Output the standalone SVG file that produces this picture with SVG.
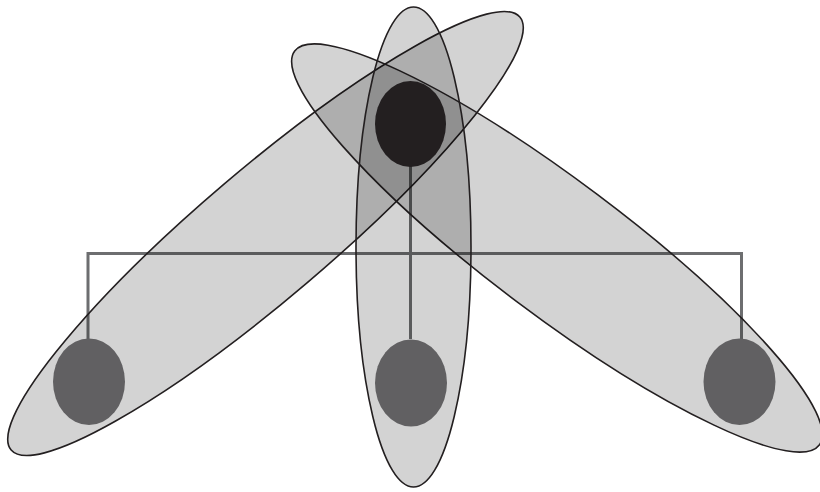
<svg xmlns="http://www.w3.org/2000/svg" width="820" height="492" viewBox="0 0 820 492">
  <style>
    .orbit { fill: #000; fill-opacity: 0.173; stroke: #231f20; stroke-width: 1.6; }
    .conn { fill: none; stroke: #6d6e70; stroke-width: 3; }
    .leaf { fill: #616062; }
    .root { fill: #231f20; }
  </style>
  <rect width="820" height="492" fill="#fff"/>
  <g id="connectors">
    <path class="conn" d="M410.5 160 V339"/>
    <path class="conn" d="M88 339 V253.5 H741.5 V339"/>
  </g>
  <g id="orbits">
    <ellipse id="orbit-left" class="orbit" cx="265.5" cy="233.5" rx="334" ry="64.5" transform="rotate(-40.4 265.5 233.5)"/>
    <ellipse id="orbit-right" class="orbit" cx="557" cy="248" rx="328" ry="67" transform="rotate(36.9 557 248)"/>
    <ellipse id="orbit-center" class="orbit" cx="413.5" cy="247" rx="57.5" ry="240"/>
  </g>
  <g id="root"><ellipse class="root" cx="410.5" cy="124" rx="35.5" ry="43"/></g>
  <g id="leaf-left"><ellipse class="leaf" cx="89" cy="381.7" rx="36" ry="43.3"/></g>
  <g id="leaf-middle"><ellipse class="leaf" cx="411" cy="383" rx="36" ry="43.5"/></g>
  <g id="leaf-right"><ellipse class="leaf" cx="739.5" cy="381.7" rx="36" ry="43.3"/></g>
</svg>
